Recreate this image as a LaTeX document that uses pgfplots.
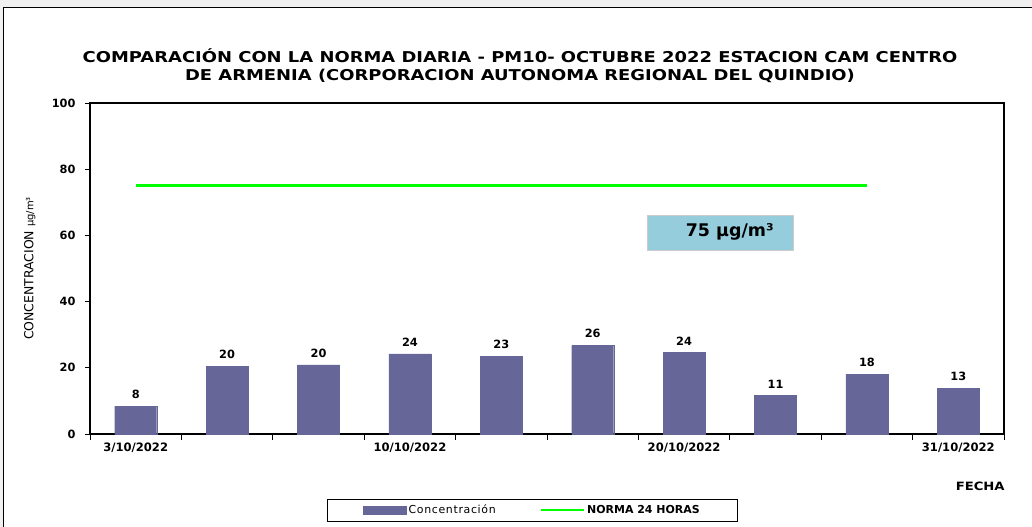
\documentclass[border=0pt]{standalone}
\usepackage{pgfplots}
\pgfplotsset{compat=1.18}
\usepackage{pgfplotstable}
\usepackage{fontspec}
\setmainfont{DejaVu Sans}
\definecolor{barc}{HTML}{666699}
\definecolor{normc}{HTML}{00FF00}
\definecolor{boxc}{HTML}{96CDDC}
\definecolor{bgc}{HTML}{F0F0F0}
\pgfplotstableread{
x y lab
0 8.4 8
1 20.4 20
2 20.9 20
3 24.2 24
4 23.4 23
5 26.8 26
6 24.6 24
7 11.6 11
8 18.1 18
9 13.7 13
}\conc
\begin{document}
\begin{tikzpicture}[x=1bp,y=1bp]
\path[use as bounding box, clip] (0,0) rectangle (1032,527);
\fill[bgc] (0,0) rectangle (1032,527);
\draw[fill=white, line width=1bp] (3,-5) rectangle (1040,519);
\node[font=\bfseries\fontsize{15}{18}\selectfont, align=center, xscale=1.2] at (520,461)
 {COMPARACIÓN CON LA NORMA DIARIA - PM10- OCTUBRE 2022 ESTACION CAM CENTRO\\DE ARMENIA (CORPORACION AUTONOMA REGIONAL DEL QUINDIO)};
\begin{axis}[
 at={(90bp,93bp)}, anchor=south west, scale only axis,
 width=914bp, height=331bp,
 xmin=-0.5, xmax=9.5, ymin=0, ymax=100,
 clip=false,
 axis line style={line width=1.2bp},
 ytick={0,20,...,100},
 xtick={0,3,6,9},
 xticklabels={3/10/2022,10/10/2022,20/10/2022,31/10/2022},
 major x tick style={draw=none},
 minor xtick={-0.5,0.5,...,9.5},
 minor tick length=6bp,
 major tick length=5bp,
 tick align=outside,
 tick style={black, line width=0.8bp},
 ytick pos=left, xtick pos=bottom,
 /pgf/number format/assume math mode=true,
 yticklabel style={font=\bfseries\fontsize{11.4}{12}\selectfont, xshift=-6bp},
 xticklabel style={font=\bfseries\fontsize{11.6}{12}\selectfont},
 ylabel={CONCENTRACION {\fontsize{10}{10}\selectfont µg/m³}},
 ylabel style={at={(axis description cs:-0.066,0.5)}, anchor=center, font=\fontsize{12.5}{13}\selectfont},
 legend columns=2,
 legend style={at={(axis description cs:0.484,-0.23)}, anchor=center, draw=black, line width=0.6bp,
   font=\fontsize{11}{12}\selectfont, inner xsep=36bp, inner ysep=4bp,
   /tikz/every even column/.append style={column sep=42bp}},
]
\addplot[ybar, bar width=42bp, fill=barc, draw=barc,
  nodes near coords, point meta=explicit symbolic,
  nodes near coords style={font=\bfseries\fontsize{11.4}{12}\selectfont, yshift=4bp, black},
  legend image code/.code={\fill[barc] (0bp,-4bp) rectangle (43bp,4bp);}]
  table[x=x, y=y, meta=lab]{\conc};
\addlegendentry{\addfontfeature{LetterSpace=6}Concentración}
\addplot[normc, line width=3.5bp, mark=none,
  legend image code/.code={\draw[normc, line width=2.5bp] (0bp,0bp) -- (43bp,0bp);}]
  coordinates {(0,75) (8,75)};
\addlegendentry{\textbf{NORMA 24 HORAS}}
\node[fill=boxc, draw=gray!40, minimum width=146bp, minimum height=35bp,
  font=\bfseries\fontsize{17.5}{18}\selectfont] at (axis cs:6.39,60.9) {\hspace{20bp}75 µg/m³};
\node[font=\bfseries\fontsize{11.5}{12}\selectfont, xscale=1.15] at (rel axis cs:0.974,-0.157) {FECHA};
\end{axis}
\end{tikzpicture}
\end{document}
